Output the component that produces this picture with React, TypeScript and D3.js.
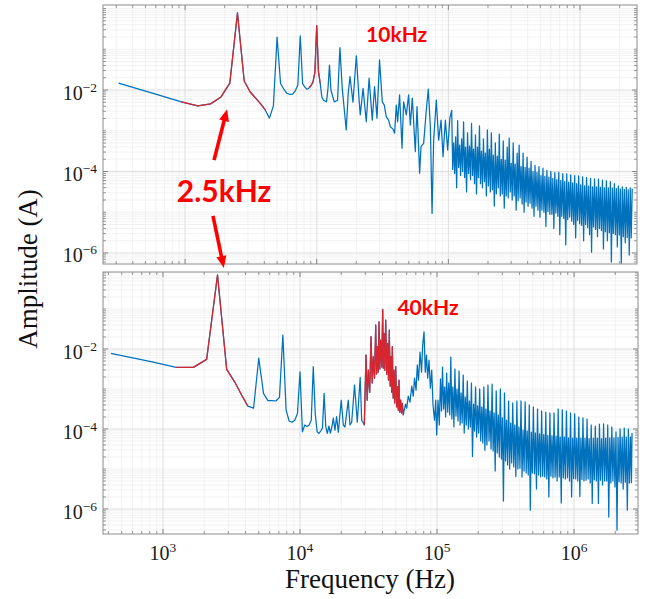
import React from "react";
import * as d3 from "d3";

// ---------------- DATA (frequency in kHz, amplitude as log10 of A) ----------------
const topPeakKHz = [0.3125, 0.625, 0.9375, 1.25, 1.5625, 1.875, 2.1875, 2.5, 2.8125, 3.125,
  3.4375, 3.75, 4.0625, 4.375, 4.6875, 5.0, 5.3125, 5.625, 5.9375, 6.25,
  6.5625, 6.875, 7.1875, 7.5, 7.8125, 8.125, 8.4375, 8.75, 9.0625, 9.375,
  9.6875, 10.0, 10.3125, 10.625, 10.9375, 11.25, 11.5625, 11.875, 12.1875, 12.5,
  12.82, 13.59, 14.4, 15.0, 15.63, 16.76, 17.36, 17.9, 18.85, 20.0,
  20.94, 21.42, 22.5, 23.79, 25.0, 26.42, 27.5, 28.7, 30.0, 31.48,
  32.6, 33.77, 35.16, 36.23, 37.98, 39.05, 40.23, 41.16, 42.63, 44.46,
  45.72, 47.92, 49.9, 51.4, 53.23, 56.1, 57.8, 60.5, 62.0, 64.9,
  68.0, 70.4, 73.0, 75.2, 77.3, 81.0, 84.4, 88.0, 91.1, 94.9,
  98.8, 102.7];
const topPeakLogA = [-1.83, -2.12, -2.29, -2.39, -2.34, -2.17, -1.83, -0.11, -1.78, -2.05,
  -2.20, -2.34, -2.49, -2.69, -2.39, -0.70, -1.84, -1.98, -2.08, -2.11,
  -2.10, -2.02, -1.88, -0.67, -1.84, -1.93, -1.98, -1.95, -1.89, -1.80,
  -1.56, -0.42, -1.55, -1.83, -2.17, -2.25, -2.27, -2.29, -1.95, -1.39,
  -2.0, -2.29, -2.25, -0.96, -1.96, -2.98, -2.08, -1.67, -2.30, -1.16,
  -2.20, -2.61, -1.96, -2.78, -1.71, -2.74, -1.92, -2.69, -1.26, -2.29,
  -2.37, -2.66, -2.74, -2.90, -2.96, -3.06, -2.37, -2.78, -2.12, -3.43,
  -2.29, -2.61, -2.12, -2.86, -2.20, -3.51, -2.41, -4.04, -3.39, -3.31,
  -2.49, -1.98, -2.90, -5.03, -3.23, -2.25, -3.23, -2.74, -3.64, -2.74,
  -3.47, -2.69];

// shared high-frequency sample positions of the dense noise band (kHz)
const bandKHz = [106, 107.9, 109.7, 111.7, 113.6, 115.6, 117.6, 119.7, 121.8, 123.9,
  126.1, 128.3, 130.5, 132.8, 135.1, 137.5, 139.9, 142.4, 144.9, 147.4,
  150.0, 152.6, 155.3, 158.0, 160.7, 163.6, 166.4, 169.3, 172.3, 175.3,
  178.4, 181.5, 184.7, 187.9, 191.2, 194.5, 197.9, 201.4, 204.9, 208.5,
  212.2, 215.9, 219.7, 223.5, 227.4, 231.4, 235.4, 239.6, 243.8, 248.0,
  252.4, 256.8, 261.3, 265.8, 270.5, 275.2, 280.0, 284.9, 289.9, 295.0,
  300.2, 305.4, 310.8, 316.2, 321.7, 327.4, 333.1, 338.9, 344.9, 350.9,
  357.0, 363.3, 369.6, 376.1, 382.7, 389.4, 396.2, 403.1, 410.2, 417.4,
  424.7, 432.1, 439.7, 447.4, 455.2, 463.2, 471.3, 479.5, 487.9, 496.4,
  505.1, 514.0, 523.0, 532.1, 541.4, 550.9, 560.5, 570.4, 580.3, 590.5,
  600.8, 611.3, 622.0, 632.9, 644.0, 655.3, 666.7, 678.4, 690.3, 702.4,
  714.7, 727.2, 739.9, 752.8, 766.0, 779.4, 793.0, 806.9, 821.0, 835.4,
  850.0, 864.9, 880.0, 895.5, 911.1, 927.1, 943.3, 959.8, 976.6, 993.7,
  1011, 1029, 1047, 1065, 1084, 1103, 1122, 1142, 1162, 1182,
  1203, 1224, 1245, 1267, 1289, 1312, 1335, 1358, 1382, 1406,
  1430, 1455, 1481, 1507, 1533, 1560, 1587, 1615, 1643, 1672,
  1701, 1731, 1762, 1792, 1824, 1856, 1888, 1921, 1955, 1989,
  2024, 2059, 2095, 2132, 2169, 2207, 2246, 2285, 2325, 2366,
  2407, 2449, 2492, 2536, 2580, 2625, 2650];

const topBandLogA = [-2.5, -3.95, -3.3, -4.05, -3.15, -4.4, -2.75, -3.9, -3.35, -4.1,
  -3.2, -4.0, -2.78, -4.15, -3.4, -4.5, -3.05, -4.05, -3.38, -4.2,
  -2.82, -4.1, -3.45, -4.3, -3.1, -4.55, -3.4, -4.15, -2.88, -4.3,
  -3.5, -4.4, -3.2, -4.25, -3.55, -4.6, -2.98, -4.35, -3.45, -4.5,
  -3.05, -4.45, -3.6, -4.85, -3.3, -4.55, -3.62, -4.4, -3.08, -4.6,
  -3.7, -4.55, -3.25, -4.9, -3.72, -4.6, -3.4, -4.65, -3.18, -4.5,
  -3.8, -4.7, -3.3, -4.6, -3.82, -4.95, -3.55, -4.72, -3.35, -4.65,
  -3.88, -4.8, -3.55, -5.0, -3.9, -4.75, -3.65, -4.85, -3.92, -4.78,
  -3.75, -4.9, -4.0, -5.1, -3.85, -4.85, -4.02, -4.95, -3.88, -5.12,
  -4.1, -4.95, -3.92, -5.0, -4.12, -5.35, -3.97, -4.98, -4.14, -5.05,
  -4.0, -5.05, -4.17, -5.4, -4.03, -5.02, -4.2, -5.1, -4.02, -5.55,
  -4.22, -5.1, -4.05, -5.15, -4.25, -5.8, -4.06, -5.18, -4.26, -5.12,
  -4.08, -5.22, -4.28, -5.3, -4.1, -5.63, -4.3, -5.2, -4.11, -5.28,
  -4.33, -5.32, -4.13, -5.7, -4.35, -5.3, -4.15, -5.38, -4.36, -5.55,
  -4.17, -5.98, -4.38, -5.36, -4.18, -5.42, -4.38, -5.6, -4.19, -5.4,
  -4.39, -5.45, -4.21, -5.9, -4.4, -5.48, -4.23, -5.7, -4.4, -5.5,
  -4.25, -6.22, -4.41, -5.52, -4.3, -5.55, -4.42, -5.85, -4.35, -5.56,
  -4.43, -6.25, -4.38, -5.6, -4.44, -5.75, -4.39, -5.62, -4.45, -6.05,
  -4.4, -5.63, -4.42];
const topRedKHz = [[0.9375, 4.0625], [8.75, 10.625]];

const bottomPeakKHz = [0.4167, 0.8333, 1.25, 1.6667, 2.0833, 2.5, 2.9167, 3.3333, 3.75, 4.1667,
  4.5833, 5.0, 5.4167, 5.8333, 6.25, 6.6667, 7.0833, 7.5, 7.9167, 8.3333,
  8.75, 9.1667, 9.5833, 10.0, 10.4167, 10.8333, 11.25, 11.6667, 12.0833, 12.5,
  12.9167, 13.3333, 13.75, 14.1667, 14.5833, 15.0, 15.4167, 15.8333, 16.25, 16.6667,
  17.2, 17.5, 18.0, 18.5, 19.04, 20.0, 20.71, 21.3, 22.5, 23.17,
  23.84, 25.0, 26.19, 27.5, 28.2, 28.97, 29.47, 30.33, 30.94, 31.52,
  32.27, 32.98, 33.65, 34.28, 34.98, 35.7, 36.18, 36.67, 37.23, 37.73,
  38.24, 38.82, 39.48, 40.15, 40.55, 41.03, 41.59, 42.22, 42.94, 43.67,
  44.26, 44.86, 45.54, 46.16, 46.7, 47.18, 47.9, 48.55, 49.2, 49.94,
  50.79, 51.65, 52.18, 52.79, 53.51, 54.33, 55.07, 55.81, 56.75, 57.7,
  58.9, 60.1, 61.7, 63.5, 65.4, 67.1, 68.5, 70.3, 71.8, 73.3,
  75.2, 77.1, 78.6, 80.4, 82.1, 83.8, 85.5, 87.4, 89.4, 91.5,
  93.5, 95.9, 97.8, 99.5, 101.7, 103.9];
const bottomPeakLogA = [-2.11, -2.32, -2.46, -2.46, -2.26, -0.15, -2.51, -2.82, -3.15, -3.43,
  -3.48, -2.23, -3.11, -3.29, -3.29, -3.30, -3.21, -1.65, -3.53, -3.80,
  -3.83, -3.78, -3.61, -2.57, -4.07, -3.90, -3.94, -3.90, -3.78, -2.44,
  -3.61, -4.07, -4.11, -4.05, -3.98, -3.11, -3.94, -4.11, -3.93, -4.10,
  -3.90, -3.73, -4.03, -3.69, -4.08, -3.28, -3.90, -3.95, -3.28, -3.90,
  -3.83, -2.90, -3.83, -2.71, -3.78, -3.85, -3.90, -2.15, -3.28, -2.53,
  -3.08, -1.69, -2.85, -2.19, -2.73, -1.40, -2.63, -1.94, -2.58, -1.32,
  -2.50, -1.78, -2.45, -1.01, -2.48, -1.61, -2.53, -1.28, -2.63, -1.86,
  -2.78, -1.53, -2.93, -2.19, -3.08, -1.94, -3.23, -2.53, -3.35, -2.44,
  -3.45, -2.94, -3.53, -2.78, -3.58, -3.28, -3.60, -3.36, -3.65, -3.53,
  -3.38, -3.48, -3.18, -3.33, -2.93, -3.18, -2.73, -3.03, -2.40, -2.78,
  -2.08, -2.58, -1.90, -1.57, -2.58, -2.15, -2.73, -2.28, -2.98, -2.53,
  -3.40, -3.78, -3.28, -4.15, -3.28, -3.90];

const bottomBandLogA = [-2.75, -3.55, -2.45, -3.5, -2.95, -3.7, -2.6, -3.58, -2.85, -3.65,
  -2.2, -3.75, -2.95, -3.95, -2.5, -3.68, -3.0, -3.8, -2.55, -3.9,
  -3.1, -3.85, -2.65, -4.1, -3.2, -3.9, -2.8, -4.0, -3.3, -3.95,
  -2.85, -4.69, -3.38, -4.05, -2.95, -4.2, -3.42, -4.1, -3.0, -4.3,
  -3.45, -4.35, -2.95, -4.53, -3.5, -4.4, -2.9, -4.3, -3.55, -4.5,
  -2.88, -4.55, -3.6, -5.05, -3.05, -4.6, -3.65, -4.7, -3.0, -4.75,
  -3.72, -5.8, -3.1, -4.8, -3.78, -4.9, -3.3, -5.0, -3.85, -4.85,
  -3.35, -4.95, -3.9, -5.19, -3.3, -5.0, -3.95, -4.98, -3.3, -5.2,
  -4.03, -5.05, -3.32, -5.1, -4.05, -5.15, -3.4, -6.03, -4.08, -5.1,
  -3.45, -5.12, -4.1, -5.5, -3.5, -5.15, -4.12, -5.2, -3.55, -5.18,
  -4.14, -5.2, -3.58, -5.25, -4.16, -5.7, -3.6, -5.18, -4.17, -5.22,
  -3.6, -5.2, -4.18, -5.3, -3.5, -5.2, -4.2, -5.85, -3.52, -5.22,
  -4.2, -5.25, -3.55, -5.22, -4.22, -5.3, -3.6, -5.7, -4.23, -5.24,
  -3.62, -5.25, -4.23, -5.3, -3.7, -5.69, -4.23, -5.26, -3.72, -5.3,
  -4.23, -5.28, -3.75, -5.25, -4.24, -5.35, -3.9, -5.86, -4.23, -5.27,
  -3.93, -5.3, -4.23, -5.86, -3.88, -5.28, -4.24, -5.4, -3.87, -5.3,
  -4.23, -5.3, -3.9, -6.2, -4.22, -5.35, -3.95, -5.3, -4.22, -5.45,
  -4.07, -6.53, -4.21, -5.32, -4.0, -5.35, -4.2, -5.5, -3.98, -5.33,
  -4.2, -6.03, -4.0, -5.35, -4.2, -5.34, -4.1];
const bottomRedKHz = [[1.25, 4.1667], [29.47, 56.75]];

const xTickExps = [3, 4, 5, 6];
const yTickExps = [-6, -4, -2];

// annotations (in panel data units: kHz, log10 A)
const annot2p5 = { text: "2.5kHz", kHz: 1.98, logA: -4.75 };
const arrowUp = { fromKHz: 1.66, fromLogA: -3.72, toKHz: 2.085, toLogA: -2.47 };
const arrowDown = { fromKHz: 1.63, fromLogA: -5.09, toKHz: 1.97, toLogA: -6.37 };
const annot10k = { text: "10kHz", kHz: 40.5, logA: -0.82 };
const annot40k = { text: "40kHz", kHz: 86, logA: -1.15 };

// ---------------- STYLE ----------------
const BLUE = "#0072BD";
const RED_LINE = "#D7262F";
const RED_ANN = "#FF0000";
const SERIF = "'Liberation Serif', 'Times New Roman', serif";

type Pt = { f: number; a: number };

function toSeries(kHz: number[], logA: number[]): Pt[] {
  const n = Math.min(kHz.length, logA.length);
  const out: Pt[] = [];
  for (let i = 0; i < n; i++) out.push({ f: kHz[i] * 1000, a: Math.pow(10, logA[i]) });
  return out;
}

const topSeries = toSeries(topPeakKHz, topPeakLogA).concat(toSeries(bandKHz, topBandLogA));
const bottomSeries = toSeries(bottomPeakKHz, bottomPeakLogA).concat(toSeries(bandKHz, bottomBandLogA));

type Box = { x0: number; x1: number; y0: number; y1: number };

const topBox: Box = { x0: 103, x1: 637, y0: 5, y1: 264 };
const bottomBox: Box = { x0: 103, x1: 638, y0: 272, y1: 534 };
const topFDomain = [238, 2.71e6];
const topADomain = [Math.pow(10, -6.27), Math.pow(10, 0.086)];
const bottomFDomain = [365, 2.93e6];
const bottomADomain = [Math.pow(10, -6.625), Math.pow(10, -0.075)];

function Pow10Label({ x, y, exp, anchor }: { x: number; y: number; exp: number; anchor: string }) {
  const e = exp < 0 ? "\u2212" + Math.abs(exp) : String(exp);
  return (
    <text x={x} y={y} textAnchor={anchor as any} fontFamily={SERIF} fontSize={20} fill="#1a1a1a">
      <tspan>10</tspan>
      <tspan dy={-8} fontSize={13.5}>{e}</tspan>
    </text>
  );
}

function Panel({ id, box, fDomain, aDomain, series, red, showX }: {
  id: string; box: Box; fDomain: number[]; aDomain: number[]; series: Pt[]; red: number[][]; showX: boolean;
}) {
  const x = d3.scaleLog().domain(fDomain).range([box.x0, box.x1]);
  const y = d3.scaleLog().domain(aDomain).range([box.y1, box.y0]);
  const line = d3.line<Pt>().x((d) => x(d.f)).y((d) => y(d.a));

  const xMinor: number[] = [];
  const xMajor: number[] = [];
  for (let n = 2; n <= 6; n++) {
    for (let k = 1; k <= 9; k++) {
      const v = k * Math.pow(10, n);
      if (v < fDomain[0] || v > fDomain[1]) continue;
      if (k === 1 && xTickExps.includes(n)) xMajor.push(v);
      else xMinor.push(v);
    }
  }
  const yMinor: number[] = [];
  const yMajor: number[] = [];
  for (let n = -7; n <= 0; n++) {
    for (let k = 1; k <= 9; k++) {
      const v = k * Math.pow(10, n);
      if (v < aDomain[0] || v > aDomain[1]) continue;
      if (k === 1 && yTickExps.includes(n)) yMajor.push(v);
      else yMinor.push(v);
    }
  }

  const redPaths = red.map((r) => {
    const pts = series.filter((p) => p.f >= r[0] * 1000 * 0.9999 && p.f <= r[1] * 1000 * 1.0001);
    return line(pts) || "";
  });

  const tickColor = "#6e6e6e";
  return (
    <g>
      <defs>
        <clipPath id={"clip-" + id}>
          <rect x={box.x0} y={box.y0} width={box.x1 - box.x0} height={box.y1 - box.y0} />
        </clipPath>
      </defs>
      <rect x={box.x0} y={box.y0} width={box.x1 - box.x0} height={box.y1 - box.y0} fill="#fff" />
      {xMinor.map((v, i) => (
        <line key={"xm" + i} x1={x(v)} x2={x(v)} y1={box.y0} y2={box.y1} stroke="#ededed" strokeWidth={0.7} />
      ))}
      {yMinor.map((v, i) => (
        <line key={"ym" + i} x1={box.x0} x2={box.x1} y1={y(v)} y2={y(v)} stroke="#ededed" strokeWidth={0.7} />
      ))}
      {xMajor.map((v, i) => (
        <line key={"xM" + i} x1={x(v)} x2={x(v)} y1={box.y0} y2={box.y1} stroke="#d9d9d9" strokeWidth={0.9} />
      ))}
      {yMajor.map((v, i) => (
        <line key={"yM" + i} x1={box.x0} x2={box.x1} y1={y(v)} y2={y(v)} stroke="#d9d9d9" strokeWidth={0.9} />
      ))}
      <g clipPath={`url(#clip-${id})`}>
        <path d={line(series) || ""} fill="none" stroke={BLUE} strokeWidth={1.25} strokeLinejoin="round" />
        {redPaths.map((d, i) => (
          <path key={"r" + i} d={d} fill="none" stroke={RED_LINE} strokeWidth={1.25} strokeLinejoin="round" />
        ))}
      </g>
      {xMajor.map((v, i) => (
        <g key={"xt" + i}>
          <line x1={x(v)} x2={x(v)} y1={box.y1} y2={box.y1 - 5} stroke={tickColor} strokeWidth={0.8} />
          <line x1={x(v)} x2={x(v)} y1={box.y0} y2={box.y0 + 5} stroke={tickColor} strokeWidth={0.8} />
        </g>
      ))}
      {xMinor.map((v, i) => (
        <g key={"xtm" + i}>
          <line x1={x(v)} x2={x(v)} y1={box.y1} y2={box.y1 - 3} stroke={tickColor} strokeWidth={0.7} />
          <line x1={x(v)} x2={x(v)} y1={box.y0} y2={box.y0 + 3} stroke={tickColor} strokeWidth={0.7} />
        </g>
      ))}
      {yMajor.map((v, i) => (
        <g key={"yt" + i}>
          <line x1={box.x0} x2={box.x0 + 5} y1={y(v)} y2={y(v)} stroke={tickColor} strokeWidth={0.8} />
          <line x1={box.x1} x2={box.x1 - 5} y1={y(v)} y2={y(v)} stroke={tickColor} strokeWidth={0.8} />
        </g>
      ))}
      {yMinor.map((v, i) => (
        <g key={"ytm" + i}>
          <line x1={box.x0} x2={box.x0 + 3} y1={y(v)} y2={y(v)} stroke={tickColor} strokeWidth={0.7} />
          <line x1={box.x1} x2={box.x1 - 3} y1={y(v)} y2={y(v)} stroke={tickColor} strokeWidth={0.7} />
        </g>
      ))}
      <rect x={box.x0} y={box.y0} width={box.x1 - box.x0} height={box.y1 - box.y0} fill="none" stroke="#8c8c8c" strokeWidth={1} />
      {yMajor.map((v, i) => (
        <Pow10Label key={"yl" + i} x={box.x0 - 6} y={y(v) + 9.5} exp={Math.round(Math.log10(v))} anchor="end" />
      ))}
      {showX &&
        xMajor.map((v, i) => (
          <Pow10Label key={"xl" + i} x={x(v)} y={box.y1 + 26} exp={Math.round(Math.log10(v))} anchor="middle" />
        ))}
    </g>
  );
}

function Arrow({ x1, y1, x2, y2 }: { x1: number; y1: number; x2: number; y2: number }) {
  const dx = x2 - x1;
  const dy = y2 - y1;
  const len = Math.sqrt(dx * dx + dy * dy);
  const ux = dx / len;
  const uy = dy / len;
  const headL = 12;
  const headW = 5;
  const bx = x2 - ux * headL;
  const by = y2 - uy * headL;
  const px = -uy;
  const py = ux;
  const pts = `${x2},${y2} ${bx + px * headW},${by + py * headW} ${bx - px * headW},${by - py * headW}`;
  return (
    <g>
      <line x1={x1} y1={y1} x2={bx + ux * 1} y2={by + uy * 1} stroke={RED_ANN} strokeWidth={3.6} />
      <polygon points={pts} fill={RED_ANN} />
    </g>
  );
}

export default function App() {
  const xt = d3.scaleLog().domain(topFDomain).range([topBox.x0, topBox.x1]);
  const yt = d3.scaleLog().domain(topADomain).range([topBox.y1, topBox.y0]);
  const xb = d3.scaleLog().domain(bottomFDomain).range([bottomBox.x0, bottomBox.x1]);
  const yb = d3.scaleLog().domain(bottomADomain).range([bottomBox.y1, bottomBox.y0]);
  const P = (v: number) => Math.pow(10, v);

  return (
    <svg
      width={654}
      height={599}
      style={{ position: "absolute", left: 0, top: 0, background: "#fff" }}
      xmlns="http://www.w3.org/2000/svg"
    >
      <rect x={0} y={0} width={654} height={599} fill="#fff" />
      <Panel id="top" box={topBox} fDomain={topFDomain} aDomain={topADomain} series={topSeries} red={topRedKHz} showX={false} />
      <Panel id="bot" box={bottomBox} fDomain={bottomFDomain} aDomain={bottomADomain} series={bottomSeries} red={bottomRedKHz} showX={true} />

      <text x={370} y={588} textAnchor="middle" fontFamily={SERIF} fontSize={27} fill="#111">
        Frequency (Hz)
      </text>
      <text transform="translate(37,269) rotate(-90)" textAnchor="middle" fontFamily={SERIF} fontSize={27} fill="#111">
        Amplitude (A)
      </text>

      <Arrow
        x1={xt(arrowUp.fromKHz * 1000)}
        y1={yt(P(arrowUp.fromLogA))}
        x2={xt(arrowUp.toKHz * 1000)}
        y2={yt(P(arrowUp.toLogA))}
      />
      <Arrow
        x1={xt(arrowDown.fromKHz * 1000)}
        y1={yt(P(arrowDown.fromLogA))}
        x2={xt(arrowDown.toKHz * 1000)}
        y2={yt(P(arrowDown.toLogA))}
      />
      <text
        x={xt(annot2p5.kHz * 1000)}
        y={yt(P(annot2p5.logA))}
        textAnchor="middle"
        fontFamily="Lato, 'Open Sans', sans-serif"
        fontWeight={700}
        fontSize={30}
        fill={RED_ANN}
      >
        {annot2p5.text}
      </text>
      <text
        x={xt(annot10k.kHz * 1000)}
        y={yt(P(annot10k.logA))}
        textAnchor="middle"
        fontFamily="Lato, 'Open Sans', sans-serif"
        fontWeight={700}
        fontSize={21}
        fill={RED_ANN}
      >
        {annot10k.text}
      </text>
      <text
        x={xb(annot40k.kHz * 1000)}
        y={yb(P(annot40k.logA))}
        textAnchor="middle"
        fontFamily="Lato, 'Open Sans', sans-serif"
        fontWeight={700}
        fontSize={21}
        fill={RED_ANN}
      >
        {annot40k.text}
      </text>
    </svg>
  );
}
